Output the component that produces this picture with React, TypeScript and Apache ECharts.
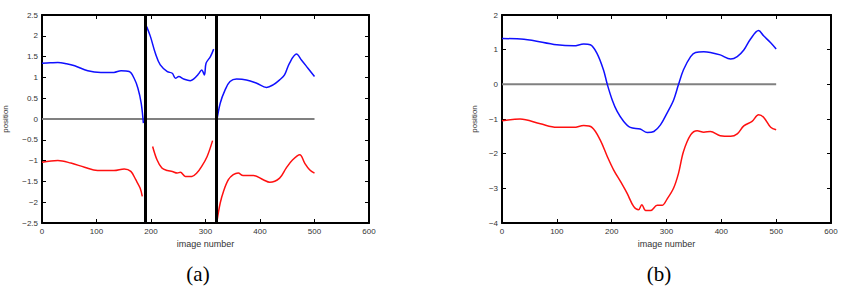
import React, { useEffect, useRef } from "react";
import * as echarts from "echarts";

// ---- Data ----
const breaksA = [189, 320];
const zeroLine = [[0, 0], [500, 0]];

// Panel (a) blue, three segments
const aBlue1 = [[0, 1.34], [15, 1.35], [29, 1.36], [45, 1.33], [60, 1.28], [84, 1.16], [108, 1.12], [132, 1.12], [145, 1.16], [160, 1.14], [169, 0.98], [176, 0.74], [182, 0.38], [186, -0.1]];
const aBlue2 = [[192, 2.22], [199, 1.98], [208, 1.58], [217, 1.3], [230, 1.14], [239, 1.1], [245, 0.98], [251, 1.02], [260, 0.96], [272, 0.92], [278, 0.96], [287, 1.08], [293, 1.18], [298, 1.06], [301, 1.34], [309, 1.5], [315, 1.68]];
const aBlue3 = [[320, -0.1], [327, 0.38], [336, 0.7], [345, 0.9], [357, 0.96], [375, 0.94], [394, 0.86], [412, 0.76], [424, 0.82], [436, 0.94], [445, 1.06], [454, 1.34], [467, 1.56], [476, 1.42], [488, 1.22], [500, 1.02]];

// Panel (a) red, three segments
const aRed1 = [[0, -1.04], [29, -1.0], [53, -1.06], [78, -1.16], [102, -1.24], [132, -1.24], [151, -1.2], [163, -1.26], [172, -1.46], [180, -1.66], [184, -1.86]];
const aRed2 = [[203, -0.66], [211, -0.98], [220, -1.18], [230, -1.24], [239, -1.26], [248, -1.3], [254, -1.28], [263, -1.38], [275, -1.38], [284, -1.3], [293, -1.14], [303, -0.9], [313, -0.52]];
const aRed3 = [[321, -2.46], [327, -2.02], [333, -1.74], [342, -1.46], [351, -1.34], [360, -1.3], [369, -1.36], [388, -1.36], [406, -1.46], [418, -1.52], [436, -1.42], [448, -1.18], [460, -0.98], [473, -0.86], [482, -1.06], [491, -1.22], [500, -1.3]];

// Panel (b)
const bBlue = [[0, 1.32], [40, 1.3], [100, 1.14], [131, 1.11], [149, 1.16], [161, 1.14], [173, 0.9], [185, 0.42], [192, 0], [201, -0.45], [210, -0.78], [222, -1.07], [234, -1.24], [252, -1.29], [265, -1.39], [277, -1.36], [289, -1.17], [301, -0.83], [313, -0.45], [322, 0], [331, 0.42], [344, 0.8], [353, 0.92], [368, 0.94], [380, 0.92], [398, 0.85], [417, 0.73], [429, 0.8], [441, 0.99], [453, 1.3], [468, 1.55], [477, 1.4], [490, 1.2], [500, 1.02]];
const bRed = [[0, -1.05], [33, -1.0], [70, -1.14], [100, -1.24], [131, -1.24], [149, -1.19], [164, -1.24], [179, -1.6], [192, -2.08], [204, -2.48], [216, -2.8], [228, -3.14], [240, -3.52], [249, -3.62], [255, -3.47], [262, -3.64], [271, -3.64], [283, -3.49], [292, -3.49], [301, -3.31], [313, -2.99], [322, -2.56], [331, -1.94], [344, -1.46], [356, -1.34], [368, -1.38], [380, -1.36], [398, -1.48], [417, -1.5], [429, -1.43], [441, -1.2], [456, -1.07], [468, -0.88], [477, -0.95], [490, -1.24], [500, -1.31]];

const panelLabels = ["(a)", "(b)"];
const xTitle = "image number";
const yTitle = "position";

const BLUE = "#1010ff";
const RED = "#ff1010";

export default function App() {
  const ref = useRef<HTMLDivElement>(null);
  useEffect(() => {
    if (!ref.current) return;
    const chart = echarts.init(ref.current, null, { renderer: "svg" });
    const fmt = (v: number) => String(v).replace("-", "\u2212");
    const tickLabel = { fontSize: 8, color: "#333", fontFamily: "Liberation Sans, Arial, sans-serif", margin: 4, formatter: fmt };
    const axisLine = { show: true, onZero: false, lineStyle: { color: "#000", width: 2 } };
    const axisTick = { show: true, inside: true, length: 4, lineStyle: { color: "#000", width: 1 } };
    const mkX = (grid: number, pos: "bottom" | "top", main: boolean) => ({
      type: "value", gridIndex: grid, position: pos, min: 0, max: 600, interval: 100,
      axisLine, axisTick, splitLine: { show: false },
      axisLabel: main ? tickLabel : { show: false },
      name: main ? xTitle : "", nameLocation: "middle", nameGap: 16,
      nameTextStyle: { fontSize: 9, color: "#333", fontFamily: "Liberation Sans, Arial, sans-serif" },
    });
    const mkY = (grid: number, pos: "left" | "right", main: boolean, min: number, max: number, interval: number, gap: number) => ({
      type: "value", gridIndex: grid, position: pos, min, max, interval,
      axisLine, axisTick, splitLine: { show: false },
      axisLabel: main ? tickLabel : { show: false },
      name: main ? yTitle : "", nameLocation: "middle", nameGap: gap,
      nameTextStyle: { fontSize: 8, color: "#333", fontFamily: "Liberation Sans, Arial, sans-serif" },
    });
    const line = (data: number[][], color: string, xi: number, yi: number, width = 1.5, extra: any = {}) => ({
      type: "line", data, xAxisIndex: xi, yAxisIndex: yi, showSymbol: false, smooth: 0.35,
      lineStyle: { color, width }, itemStyle: { color }, silent: true, ...extra,
    });
    const option: any = {
      animation: false,
      grid: [
        { left: 41, top: 15, width: 328, height: 208 },
        { left: 502, top: 15, width: 329, height: 208 },
      ],
      xAxis: [mkX(0, "bottom", true), mkX(0, "top", false), mkX(1, "bottom", true), mkX(1, "top", false)],
      yAxis: [
        mkY(0, "left", true, -2.5, 2.5, 0.5, 33),
        mkY(0, "right", false, -2.5, 2.5, 0.5, 0),
        mkY(1, "left", true, -4, 2, 1, 24),
        mkY(1, "right", false, -4, 2, 1, 0),
      ],
      series: [
        { ...line(zeroLine, "#808080", 0, 0, 2), smooth: false,
          markLine: { silent: true, symbol: "none", label: { show: false },
            lineStyle: { color: "#000", width: 3, type: "solid" },
            data: breaksA.map((x) => ({ xAxis: x })) } },
        line(aBlue1, BLUE, 0, 0),
        line(aBlue2, BLUE, 0, 0),
        line(aBlue3, BLUE, 0, 0),
        line(aRed1, RED, 0, 0),
        line(aRed2, RED, 0, 0),
        line(aRed3, RED, 0, 0),
        { ...line(zeroLine, "#808080", 2, 2, 2), smooth: false },
        line(bBlue, BLUE, 2, 2),
        line(bRed, RED, 2, 2),
      ],
      graphic: [
        { type: "text", x: 198, y: 274, style: { text: panelLabels[0], font: "21px 'Liberation Serif', serif", fill: "#000", align: "center", verticalAlign: "middle" } },
        { type: "text", x: 659, y: 274, style: { text: panelLabels[1], font: "21px 'Liberation Serif', serif", fill: "#000", align: "center", verticalAlign: "middle" } },
      ],
    };
    chart.setOption(option);
    return () => chart.dispose();
  }, []);
  return <div ref={ref} style={{ position: "fixed", left: 0, top: 0, width: 844, height: 287, background: "#fff" }} />;
}
